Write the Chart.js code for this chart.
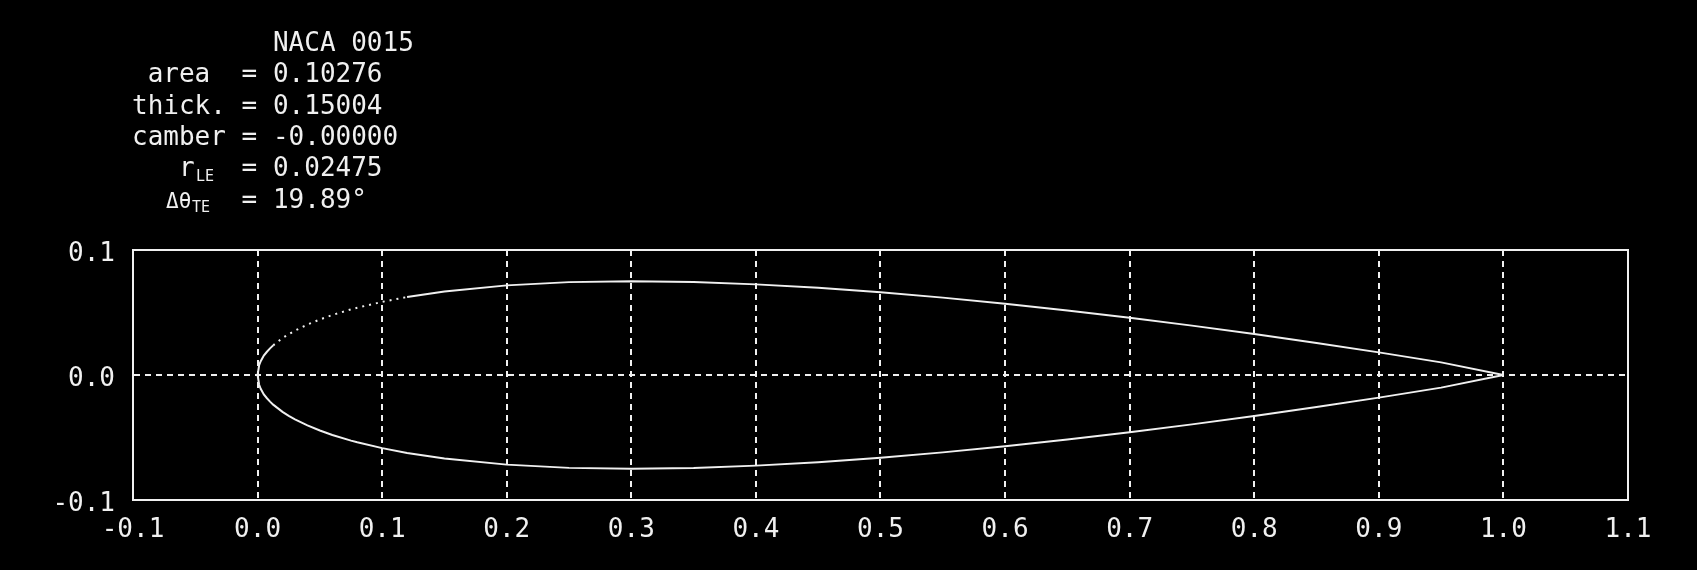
<!DOCTYPE html>
<html>
<head>
<meta charset="utf-8">
<script src="https://cdn.jsdelivr.net/npm/chart.js@4/dist/chart.umd.min.js"></script>
<style>
  html, body { margin: 0; padding: 0; background: #000; }
  #wrap { position: relative; width: 1697px; height: 570px; background: #000; }
  canvas { display: block; }
</style>
</head>
<body>
<div id="wrap"><canvas id="c" width="1697" height="570"></canvas></div>
<script>
// ---- data ----
const xUpper = [0.0, 0.00125, 0.0025, 0.005, 0.0075, 0.01, 0.0125, 0.02, 0.025, 0.03, 0.04, 0.05, 0.06, 0.075, 0.08, 0.1, 0.12, 0.15, 0.2, 0.25, 0.3, 0.35, 0.4, 0.45, 0.5, 0.55, 0.6, 0.65, 0.7, 0.75, 0.8, 0.85, 0.9, 0.95, 1.0];
const yUpper = [0.0, 0.0078, 0.0110, 0.0155, 0.0186, 0.0213, 0.0237, 0.0295, 0.0327, 0.0355, 0.0403, 0.0444, 0.0480, 0.0525, 0.0538, 0.0585, 0.0624, 0.0668, 0.0717, 0.0743, 0.0750, 0.0744, 0.0725, 0.0698, 0.0662, 0.0619, 0.0570, 0.0516, 0.0458, 0.0395, 0.0328, 0.0256, 0.0181, 0.0101, 0.0];
const xLower = [0.0, 0.00125, 0.0025, 0.005, 0.0075, 0.01, 0.0125, 0.02, 0.025, 0.03, 0.04, 0.05, 0.06, 0.075, 0.08, 0.1, 0.12, 0.15, 0.2, 0.25, 0.3, 0.35, 0.4, 0.45, 0.5, 0.55, 0.6, 0.65, 0.7, 0.75, 0.8, 0.85, 0.9, 0.95, 1.0];
const yLower = [0.0, -0.0078, -0.0110, -0.0155, -0.0186, -0.0213, -0.0237, -0.0295, -0.0327, -0.0355, -0.0403, -0.0444, -0.0480, -0.0525, -0.0538, -0.0585, -0.0624, -0.0668, -0.0717, -0.0743, -0.0750, -0.0744, -0.0725, -0.0698, -0.0662, -0.0619, -0.0570, -0.0516, -0.0458, -0.0395, -0.0328, -0.0256, -0.0181, -0.0101, 0.0];
const xTicks = [-0.1, 0.0, 0.1, 0.2, 0.3, 0.4, 0.5, 0.6, 0.7, 0.8, 0.9, 1.0, 1.1];
const yTicks = [-0.1, 0.0, 0.1];
const airfoilName = "NACA 0015";
const infoLabels = ["area", "thick.", "camber", "r", "Δθ"];
const infoSubs = ["", "", "", "LE", "TE"];
const infoValues = ["0.10276", "0.15004", "-0.00000", "0.02475", "19.89°"];

const FG = '#f0f0f0';
const FONT = '"DejaVu Sans Mono", "Liberation Mono", monospace';

const toPts = (xs, ys) => xs.map((x, i) => ({x: x, y: ys[i]}));

const infoPlugin = {
  id: 'info',
  afterDraw(chart) {
    const ctx = chart.ctx;
    ctx.save();
    ctx.fillStyle = FG;
    ctx.textBaseline = 'alphabetic';
    ctx.textAlign = 'left';
    const cw = 15.66, c0 = 132;
    const col = n => c0 + n * cw;
    ctx.font = '26px ' + FONT;
    ctx.fillText(airfoilName, col(9), 51);
    const base0 = 82.3, step = 31.3;
    const labelCols = [1, 0, 0, 3, 2.2];
    for (let i = 0; i < infoLabels.length; i++) {
      const b = base0 + i * step;
      if (i === 4) {
        ctx.font = '21px ' + FONT;
        ctx.fillText(infoLabels[i], 166, b);
      } else {
        ctx.font = '26px ' + FONT;
        ctx.fillText(infoLabels[i], col(labelCols[i]), b);
      }
      if (infoSubs[i]) {
        ctx.font = '15px ' + FONT;
        ctx.fillText(infoSubs[i], i === 3 ? 196 : 192, b + 4.5);
      }
      ctx.font = '26px ' + FONT;
      ctx.fillText('=', col(7), b);
      ctx.fillText(infoValues[i], col(9), b);
    }
    // frame box
    const a = chart.chartArea;
    ctx.strokeStyle = FG;
    ctx.lineWidth = 2;
    ctx.setLineDash([]);
    ctx.strokeRect(a.left, a.top, a.right - a.left, a.bottom - a.top);
    ctx.restore();
  }
};

const bgPlugin = {
  id: 'bg',
  beforeDraw(chart) {
    const ctx = chart.ctx;
    ctx.save();
    ctx.fillStyle = '#000';
    ctx.fillRect(0, 0, chart.width, chart.height);
    ctx.restore();
  }
};

const dotted = ctx => {
  const a = ctx.p0.parsed.x, b = ctx.p1.parsed.x;
  return (Math.min(a, b) >= 0.0124 && Math.max(a, b) <= 0.121) ? [2, 5] : undefined;
};

new Chart(document.getElementById('c'), {
  type: 'scatter',
  data: {
    datasets: [
      { data: toPts(xUpper, yUpper), showLine: true, borderColor: FG, borderWidth: 2, pointRadius: 0, tension: 0, segment: { borderDash: dotted } },
      { data: toPts(xLower, yLower), showLine: true, borderColor: FG, borderWidth: 2, pointRadius: 0, tension: 0 }
    ]
  },
  options: {
    responsive: false,
    animation: false,
    devicePixelRatio: 1,
    layout: { padding: { top: 250, right: 69, bottom: 0, left: 0 } },
    plugins: { legend: { display: false }, tooltip: { enabled: false }, title: { display: false } },
    scales: {
      x: {
        type: 'linear',
        min: xTicks[0], max: xTicks[xTicks.length - 1],
        afterBuildTicks: s => { s.ticks = xTicks.map(v => ({value: v})); },
        afterFit: s => { s.height = 70; },
        ticks: { callback: v => Number(v).toFixed(1), color: FG, font: { family: FONT, size: 26 }, padding: 15, maxRotation: 0, autoSkip: false },
        grid: {
          drawTicks: false,
          lineWidth: 2,
          color: c => (c.tick && c.tick.value > -0.05 && c.tick.value < 1.05) ? FG : 'rgba(0,0,0,0)'
        },
        border: { display: true, color: FG, width: 2, dash: [6, 5] }
      },
      y: {
        type: 'linear',
        min: yTicks[0], max: yTicks[yTicks.length - 1],
        afterBuildTicks: s => { s.ticks = yTicks.map(v => ({value: v})); },
        afterFit: s => { s.width = 133; },
        ticks: { callback: v => Number(v).toFixed(1), color: FG, font: { family: FONT, size: 26 }, padding: 18, labelOffset: 4 },
        grid: {
          drawTicks: false,
          lineWidth: 2,
          color: c => (c.tick && Math.abs(c.tick.value) < 1e-9) ? FG : 'rgba(0,0,0,0)'
        },
        border: { display: true, color: FG, width: 2, dash: [6, 5] }
      }
    }
  },
  plugins: [bgPlugin, infoPlugin]
});
</script>
</body>
</html>
